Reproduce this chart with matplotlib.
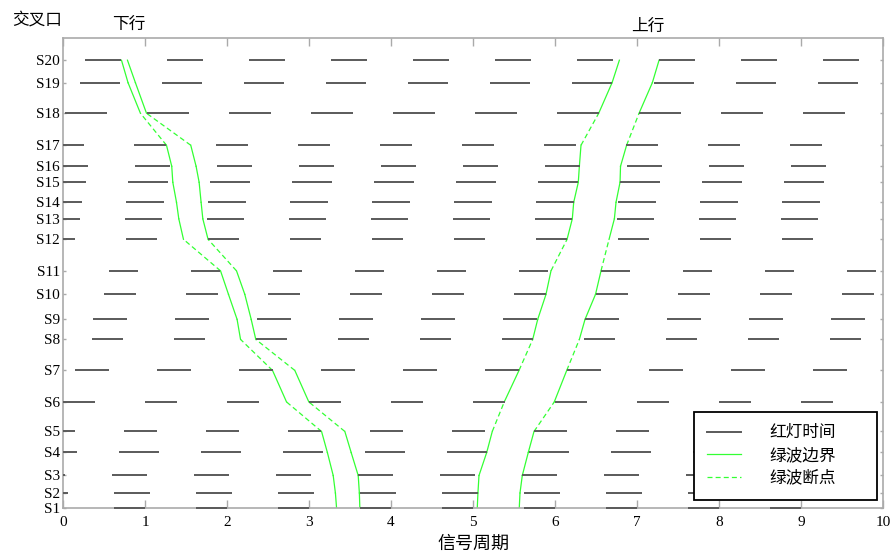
import matplotlib
matplotlib.use('Agg')
import matplotlib.pyplot as plt
from matplotlib.lines import Line2D

plt.rcParams['font.family'] = ['Liberation Serif', 'Noto Sans CJK SC']

# intersections and their distance from S1
names = ['S1', 'S2', 'S3', 'S4', 'S5', 'S6', 'S7', 'S8', 'S9', 'S10',
         'S11', 'S12', 'S13', 'S14', 'S15', 'S16', 'S17', 'S18', 'S19', 'S20']
dist = [0, 150, 325, 555, 765, 1060, 1375, 1685, 1885, 2135,
        2370, 2685, 2890, 3055, 3255, 3415, 3625, 3945, 4250, 4475]

# red light start (offset of the first cycle) and red length per intersection
red_start = [-0.38, -0.381, -0.402, -0.32, -0.251, 0.0, 0.151, 0.354, 0.362, 0.5,
             0.561, -0.226, -0.247, -0.231, -0.207, -0.117, -0.137, 0.029, 0.204, 0.273]
red_len = [0.385, 0.439, 0.427, 0.488, 0.398, 0.39, 0.407, 0.378, 0.424, 0.391,
           0.359, 0.373, 0.46, 0.46, 0.493, 0.419, 0.399, 0.508, 0.496, 0.44]

# green wave boundaries (cycle time at each intersection)
down_left = [3.336, 3.322, 3.295, 3.224, 3.153, 2.726, 2.555, 2.165, 2.123, 2.018,
             1.921, 1.469, 1.412, 1.384, 1.339, 1.326, 1.262, 0.944, 0.793, 0.713]
down_right = [3.62, 3.614, 3.6, 3.514, 3.437, 2.998, 2.827, 2.351, 2.295, 2.217,
              2.116, 1.769, 1.705, 1.684, 1.66, 1.623, 1.558, 1.018, 0.883, 0.786]
up_left = [5.052, 5.06, 5.073, 5.167, 5.235, 5.381, 5.561, 5.728, 5.789, 5.89,
           5.951, 6.147, 6.211, 6.228, 6.284, 6.297, 6.317, 6.533, 6.696, 6.785]
up_right = [5.564, 5.573, 5.601, 5.674, 5.744, 5.991, 6.143, 6.297, 6.366, 6.494,
            6.561, 6.659, 6.724, 6.744, 6.793, 6.799, 6.873, 7.025, 7.187, 7.269]

# segments (Si -> Si+1, 0-based) where the green wave breaks
break_segs = [4, 6, 10, 16]

red_color = '#5a5a5a'
green = '#33ff33'
grey = '#aaaaaa'

fig = plt.figure(figsize=(8.95, 5.59), dpi=100)
ax = fig.add_axes([0.0704, 0.0912, 0.9162, 0.8414])

# red light bars, ten cycles
for y, s0, ln in zip(dist, red_start, red_len):
    for k in range(10):
        s = max(s0 + k, 0)
        e = min(s0 + k + ln, 10)
        if e > s:
            ax.hlines(y, s, e, colors=red_color, linewidth=1.4, clip_on=False, zorder=3)

# green wave boundaries
for line in [down_left, down_right, up_left, up_right]:
    for i in range(len(dist) - 1):
        ls = (0, (4, 2.5)) if i in break_segs else '-'
        ax.plot(line[i:i + 2], dist[i:i + 2], color=green, linewidth=0.9, linestyle=ls)

ax.set_xlim(0, 10)
ax.set_ylim(0, 4700)
ax.set_xticks(range(11))
ax.set_yticks(dist)
ax.set_yticklabels(names)
for sp in ax.spines.values():
    sp.set_color(grey)
    sp.set_linewidth(1.2)
ax.tick_params(axis='x', direction='in', length=6, color=grey, top=True,
               labelsize=11, pad=6, width=1)
ax.tick_params(axis='y', direction='in', length=2, color=grey, right=True,
               labelsize=11, pad=2, width=1)

ax.set_xlabel('信号周期', fontsize=13, labelpad=5)

fig.text(0.0134, 0.964, '交叉口', fontsize=12, va='center', ha='left')
fig.text(129 / 895, 0.955, '下行', fontsize=12, va='center', ha='center')
fig.text(648 / 895, 0.952, '上行', fontsize=12, va='center', ha='center')

handles = [Line2D([], [], color=red_color, linewidth=1.4),
           Line2D([], [], color=green, linewidth=0.9),
           Line2D([], [], color=green, linewidth=0.9, linestyle=(0, (4, 2.5)))]
leg = ax.legend(handles, ['红灯时间', '绿波边界', '绿波断点'], loc='lower left',
                bbox_to_anchor=(0.7695, 0.017, 0.2228, 0.2), mode='expand',
                borderaxespad=0, fancybox=False, fontsize=12, handlelength=2,
                handletextpad=1.7, labelspacing=0.4, borderpad=0.8, framealpha=1)
leg.get_frame().set_edgecolor('black')
leg.get_frame().set_linewidth(1.3)
leg.set_zorder(5)

fig.savefig('out.png', dpi=100)
